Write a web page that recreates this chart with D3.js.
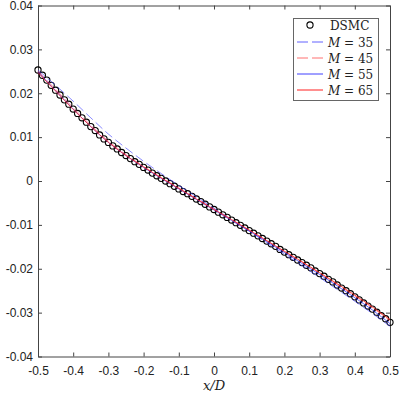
<!DOCTYPE html>
<html>
<head>
<meta charset="utf-8">
<script src="https://cdn.jsdelivr.net/npm/d3@7"></script>
<style>
body { margin: 0; background: #fff; }
svg { display: block; }
</style>
</head>
<body>
<div id="chart"></div>
<script>
// DSMC samples, x/D from -0.5 to 0.5 in steps of 0.0125
var dsmcY = [0.0253, 0.0241, 0.0230, 0.0218, 0.0207, 0.0196, 0.0185, 0.0175, 0.0164,
  0.0154, 0.0144, 0.0134, 0.0124, 0.0115, 0.0105, 0.0096, 0.0088, 0.0080, 0.0073, 0.0065,
  0.0058, 0.0051, 0.0044, 0.0038, 0.0031, 0.0025, 0.0018, 0.0012, 0.0006, 0.0000, -0.0006,
  -0.0012, -0.0018, -0.0024, -0.0029, -0.0035, -0.0041, -0.0047, -0.0053, -0.0059, -0.0065,
  -0.0071, -0.0077, -0.0083, -0.0089, -0.0095, -0.0101, -0.0107, -0.0113, -0.0119, -0.0125,
  -0.0131, -0.0137, -0.0143, -0.0149, -0.0156, -0.0162, -0.0168, -0.0174, -0.0180, -0.0186,
  -0.0192, -0.0198, -0.0205, -0.0211, -0.0217, -0.0224, -0.0230, -0.0237, -0.0244, -0.0250,
  -0.0257, -0.0264, -0.0271, -0.0278, -0.0285, -0.0292, -0.0299, -0.0307, -0.0314, -0.0322];
var dsmcX = d3.range(dsmcY.length).map(function (i) { return -0.5 + i * 0.0125; });

// model curves sampled every 0.05
var lineX = [-0.5, -0.45, -0.4, -0.35, -0.3, -0.25, -0.2, -0.15, -0.1, -0.05, 0,
  0.05, 0.1, 0.15, 0.2, 0.25, 0.3, 0.35, 0.4, 0.45, 0.5];
var m35 = [0.0253, 0.0218, 0.0182, 0.0144, 0.0107, 0.0075, 0.0045, 0.0017, -0.0010, -0.0036, -0.0062,
  -0.0088, -0.0114, -0.0141, -0.0167, -0.0193, -0.0220, -0.0247, -0.0274, -0.0302, -0.0331];
var m45 = [0.0251, 0.0209, 0.0167, 0.0127, 0.0091, 0.0060, 0.0033, 0.0008, -0.0016, -0.0040, -0.0064,
  -0.0088, -0.0112, -0.0136, -0.0161, -0.0185, -0.0210, -0.0236, -0.0262, -0.0289, -0.0318];
var m55 = [0.0249, 0.0206, 0.0164, 0.0124, 0.0088, 0.0058, 0.0031, 0.0006, -0.0018, -0.0042, -0.0066,
  -0.0090, -0.0114, -0.0138, -0.0163, -0.0188, -0.0213, -0.0239, -0.0266, -0.0294, -0.0325];
var m65 = [0.0247, 0.0205, 0.0163, 0.0124, 0.0088, 0.0058, 0.0032, 0.0007, -0.0017, -0.0041, -0.0065,
  -0.0088, -0.0112, -0.0136, -0.0160, -0.0184, -0.0209, -0.0234, -0.0260, -0.0287, -0.0316];

var xTicks = [-0.5, -0.4, -0.3, -0.2, -0.1, 0, 0.1, 0.2, 0.3, 0.4, 0.5];
var yTicks = [-0.04, -0.03, -0.02, -0.01, 0, 0.01, 0.02, 0.03, 0.04];

var series = [
  {name: '35', y: m35, color: '#3b3bff', dash: '9,4', width: 0.6},
  {name: '45', y: m45, color: '#ff4b4b', dash: '9,4', width: 0.6},
  {name: '55', y: m55, color: '#2a2aff', dash: null, width: 0.7},
  {name: '65', y: m65, color: '#ff2020', dash: null, width: 0.8}
];

var W = 399, H = 397;
var plotLeft = 38, plotRight = 390, plotTop = 5.5, plotBottom = 356.5;

var svg = d3.select('#chart').append('svg')
    .attr('width', W)
    .attr('height', H);

var x = d3.scaleLinear().domain([-0.5, 0.5]).range([plotLeft, plotRight]);
var y = d3.scaleLinear().domain([-0.04, 0.04]).range([plotBottom, plotTop]);

// plain hyphen for negatives, like the original
var fmt = function (d) { return String(+d.toFixed(2)); };

// axes with inward ticks on all four sides
function styleAxis(g) {
    g.selectAll('path').attr('stroke', '#444').attr('stroke-width', 1);
    g.selectAll('line').attr('stroke', '#444').attr('stroke-width', 1);
    g.selectAll('text')
        .style('font-family', 'Liberation Sans, Arial, sans-serif')
        .style('font-size', '12px')
        .attr('fill', '#222');
}

svg.append('g')
    .attr('transform', 'translate(0,' + plotBottom + ')')
    .call(d3.axisBottom(x).tickValues(xTicks).tickSize(-4).tickSizeOuter(0).tickPadding(10).tickFormat(fmt))
    .call(styleAxis);
svg.append('g')
    .attr('transform', 'translate(0,' + plotTop + ')')
    .call(d3.axisTop(x).tickValues(xTicks).tickSize(-4).tickSizeOuter(0).tickFormat(''))
    .call(styleAxis);
svg.append('g')
    .attr('transform', 'translate(' + plotLeft + ',0)')
    .call(d3.axisLeft(y).tickValues(yTicks).tickSize(-4).tickSizeOuter(0).tickPadding(5).tickFormat(fmt))
    .call(styleAxis);
svg.append('g')
    .attr('transform', 'translate(' + plotRight + ',0)')
    .call(d3.axisRight(y).tickValues(yTicks).tickSize(-4).tickSizeOuter(0).tickFormat(''))
    .call(styleAxis);

// x label
svg.append('text')
    .attr('x', (plotLeft + plotRight) / 2)
    .attr('y', 390)
    .attr('text-anchor', 'middle')
    .style('font-family', 'DejaVu Serif, Liberation Serif, serif')
    .style('font-style', 'italic')
    .style('font-size', '13px')
    .attr('fill', '#222')
    .text('x/D');

// DSMC circles
var dsmc = dsmcX.map(function (d, i) { return {x: d, y: dsmcY[i]}; });
svg.append('g').selectAll('circle')
    .data(dsmc).enter().append('circle')
    .attr('cx', function (d) { return x(d.x); })
    .attr('cy', function (d) { return y(d.y); })
    .attr('r', 3.1)
    .attr('fill', 'none')
    .attr('stroke', '#000')
    .attr('stroke-width', 1.1);

// model lines
var line = d3.line()
    .x(function (d) { return x(d[0]); })
    .y(function (d) { return y(d[1]); })
    .curve(d3.curveMonotoneX);

series.forEach(function (s) {
    svg.append('path')
        .datum(lineX.map(function (v, i) { return [v, s.y[i]]; }))
        .attr('d', line)
        .attr('fill', 'none')
        .attr('stroke', s.color)
        .attr('stroke-width', s.width)
        .attr('stroke-dasharray', s.dash);
});

// legend
var lg = svg.append('g');
lg.append('rect')
    .attr('x', 293.5).attr('y', 18.5)
    .attr('width', 85).attr('height', 82)
    .attr('fill', '#fff')
    .attr('stroke', '#666')
    .attr('stroke-width', 1);

var rowY = [25, 42, 58, 74, 90];
lg.append('circle')
    .attr('cx', 310).attr('cy', rowY[0])
    .attr('r', 3.1)
    .attr('fill', 'none').attr('stroke', '#000').attr('stroke-width', 1.1);
lg.append('text')
    .attr('x', 330).attr('y', rowY[0] + 4.5)
    .style('font-family', 'DejaVu Serif, Liberation Serif, serif')
    .style('font-size', '12px')
    .attr('fill', '#222')
    .text('DSMC');

series.forEach(function (s, i) {
    var ry = rowY[i + 1];
    lg.append('line')
        .attr('x1', 297).attr('x2', 323)
        .attr('y1', ry).attr('y2', ry)
        .attr('stroke', s.color)
        .attr('stroke-width', s.width + 0.2)
        .attr('stroke-dasharray', s.dash ? '11,4' : null);
    var t = lg.append('text')
        .attr('x', 328).attr('y', ry + 4.5)
        .style('font-family', 'DejaVu Serif, Liberation Serif, serif')
        .style('font-size', '12px')
        .attr('fill', '#222');
    t.append('tspan').style('font-style', 'italic').text('M');
    t.append('tspan').text(' = ' + s.name);
});
</script>
</body>
</html>
